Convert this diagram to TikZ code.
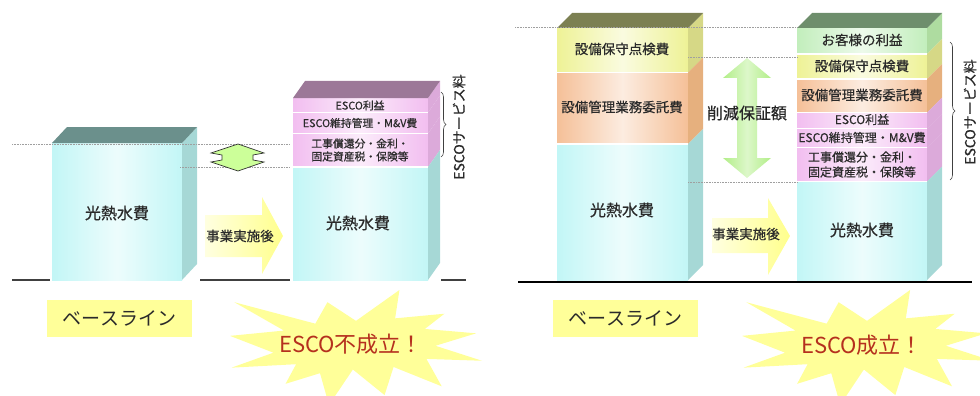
\documentclass[tikz,border=0pt]{standalone}
\usepackage{fontspec}
\setmainfont{Noto Sans CJK JP}
\newfontfamily\jpb{Noto Sans CJK JP}[FakeBold=0.5]
\usetikzlibrary{decorations.pathreplacing}
\definecolor{cyanF}{HTML}{C2F6F6}
\definecolor{cyanS}{HTML}{A6D8D6}
\definecolor{cyanT}{HTML}{6B908C}
\definecolor{pinkF}{HTML}{F2BEF0}
\definecolor{pinkS}{HTML}{DCAADA}
\definecolor{pinkT}{HTML}{9C7898}
\definecolor{yelF}{HTML}{EEF296}
\definecolor{yelS}{HTML}{D6D886}
\definecolor{oliveT}{HTML}{7C8052}
\definecolor{oraF}{HTML}{F5C098}
\definecolor{oraS}{HTML}{E6B07E}
\definecolor{grnF}{HTML}{C2EEBC}
\definecolor{grnS}{HTML}{AEDCA0}
\definecolor{grnT}{HTML}{6E8E6C}
\definecolor{hexG}{HTML}{CCFF99}
\definecolor{arrG}{HTML}{B2EE88}
\definecolor{starY}{HTML}{FFFF99}
\definecolor{boxY}{HTML}{FFFF99}
\definecolor{redT}{HTML}{B5301E}
\definecolor{txt}{HTML}{2A2A2A}
\newcommand{\esec}[6]{%
  \shade[left color=#5, right color=#5, middle color=#5!30!white] (#1,#3) rectangle (#2,#4);
  \fill[#6] (#2,#3) -- ({#2+\dX},{#3-\dY}) -- ({#2+\dX},{#4-\dY}) -- (#2,#4) -- cycle;}
\newcommand{\etop}[4]{%
  \fill[#4] (#1,#3) -- ({#1+\dX},{#3-\dY}) -- ({#2+\dX},{#3-\dY}) -- (#2,#3) -- cycle;}
\newcommand{\esep}[3]{\draw[white, line width=1.4pt] (#1,#3) -- (#2,#3);}
\newcommand{\starpath}{(108,58) -- (145.22,0) -- (141.55,53.25) -- (183.80,44.57) -- (167.02,73.15) -- (210.97,81.37) -- (176.07,104.75) -- (216,132.90) -- (168.37,129.42) -- (181.45,180.95) -- (140.20,144.57) -- (132.47,197.37) -- (105.32,149.35) -- (84.85,216) -- (77.15,156.27) -- (47.62,176.17) -- (56.67,139.37) -- (1.35,145.87) -- (37.22,117.75) -- (0,86.15) -- (46.27,76.17) -- (3.70,22.95) -- (73.12,63.20) -- (83.52,22.95) -- cycle}
\tikzset{
  dotl/.style={gray!75, dash pattern=on 0.8pt off 0.8pt, line width=0.6pt},
  lbl/.style={text=txt, inner sep=0pt, align=center},
  big/.style={lbl, font=\jpb\fontsize{16}{16}\selectfont},
  mid/.style={lbl, font=\jpb\fontsize{13.5}{14}\selectfont},
  smA/.style={lbl, font=\jpb\fontsize{10.8}{13}\selectfont},
  smB/.style={lbl, font=\jpb\fontsize{12}{15}\selectfont},
  vert/.style={lbl, rotate=90, font=\jpb\fontsize{14}{14}\selectfont},
  brc/.style={decorate, decoration={brace, amplitude=5pt}, black!75, line width=0.6pt},
  yarrow/.style={left color=yellow!12, right color=yellow!45},
  basebox/.style={fill=boxY, text=txt, minimum width=145pt, minimum height=37pt, inner sep=0pt, font=\fontsize{19}{19}\selectfont},
  startxt/.style={text=redT, inner sep=0pt, font=\fontsize{22}{22}\selectfont},
}
\begin{document}
\begin{tikzpicture}[x=1pt,y=-1pt]
\useasboundingbox (0,0) rectangle (980,396);
% ================= LEFT PANEL =================
\def\dX{15}\def\dY{16}
\esec{52}{182}{143}{280}{cyanF}{cyanS}
\etop{52}{182}{143}{cyanT}
\def\dX{12}\def\dY{17}
\esec{293}{428}{98}{112.5}{pinkF}{pinkS}
\esec{293}{428}{112.5}{133.5}{pinkF}{pinkS}
\esec{293}{428}{133.5}{167}{pinkF}{pinkS}
\esec{293}{428}{167}{280}{cyanF}{cyanS}
\etop{293}{428}{98}{pinkT}
\esep{293}{428}{112.5}\esep{293}{428}{133.5}\esep{293}{428}{167}
% baseline segments
\draw[black!75, line width=1.2pt] (12,280) -- (50,280);
\draw[black!75, line width=1.2pt] (200,280) -- (290,280);
\draw[black!75, line width=1.2pt] (441,280) -- (466,280);
% dotted
\draw[dotl] (12,144) -- (290,144);
\draw[dotl] (180,167) -- (290,167);
% hexagon double arrow
\filldraw[fill=hexG, draw=black!80, line width=0.7pt] (238,144) -- (264,153) -- (253,155) -- (253,160) -- (264,162) -- (238,171) -- (211,162) -- (222,160) -- (222,155) -- (211,153) -- cycle;
% yellow arrow
\shade[yarrow] (205,215) -- (262,215) -- (262,197) -- (283,236) -- (262,274) -- (262,257) -- (205,257) -- cycle;
\node[mid] (jL) at (240,236) {事業実施後};
% labels
\node[big] (kL1) at (117,213) {光熱水費};
\node[big] (kL2) at (358,223) {光熱水費};
\node[smA] (eL1) at (360,105.5) {ESCO利益};
\node[smA] (eL2) at (360,123) {ESCO維持管理・M\&V費};
\node[smA] (eL3) at (360,150) {工事償還分・金利・\\固定資産税・保険等};
\draw[brc] (441,92) -- (441,157);
\node[vert] (sL) at (459,127) {ESCOサービス料};
\node[basebox] (bL) at (119.5,318.5) {ベースライン};
\begin{scope}[shift={(230pt,-290pt)}, x=1.1667pt, y=-0.5324pt]
\fill[starY] \starpath;
\end{scope}
\node[startxt] (xL) at (351,344) {ESCO不成立！};
% ================= RIGHT PANEL =================
\def\dX{15}\def\dY{15}
\esec{557}{688}{28}{72.5}{yelF}{yelS}
\esec{557}{688}{72.5}{144}{oraF}{oraS}
\esec{557}{688}{144}{280}{cyanF}{cyanS}
\etop{557}{688}{28}{oliveT}
\esep{557}{688}{72.5}\esep{557}{688}{144}
\esec{797}{927}{28}{54}{grnF}{grnS}
\esec{797}{927}{54}{79}{yelF}{yelS}
\esec{797}{927}{79}{112.5}{oraF}{oraS}
\esec{797}{927}{112.5}{128.5}{pinkF}{pinkS}
\esec{797}{927}{128.5}{147.5}{pinkF}{pinkS}
\esec{797}{927}{147.5}{181.5}{pinkF}{pinkS}
\esec{797}{927}{181.5}{280}{cyanF}{cyanS}
\etop{797}{927}{28}{grnT}
\esep{797}{927}{54}\esep{797}{927}{79}\esep{797}{927}{112.5}\esep{797}{927}{128.5}\esep{797}{927}{147.5}\esep{797}{927}{181.5}
\draw[black, line width=1.2pt] (518,282) -- (972,282);
\draw[dotl] (515,27) -- (798,27);
\draw[dotl] (688,57) -- (798,57);
\draw[dotl] (688,182) -- (798,182);
% green double arrow
\shade[left color=arrG, right color=arrG, middle color=arrG!45!white] (747,58) -- (771,78) -- (757,78) -- (757,158) -- (771,158) -- (747,178) -- (723,158) -- (737,158) -- (737,78) -- (723,78) -- cycle;
\node[big, text=black!85] (gR) at (747,113) {削減保証額};
% yellow arrow
\shade[yarrow] (712,218) -- (768,218) -- (768,198) -- (790,236) -- (768,275) -- (768,253) -- (712,253) -- cycle;
\node[mid] (jR) at (746,234) {事業実施後};
% labels
\node[mid] (aR1) at (622,49) {設備保守点検費};
\node[mid] (aR2) at (622,107) {設備管理業務委託費};
\node[big] (aR3) at (622,210) {光熱水費};
\node[mid] (cR1) at (862,40) {お客様の利益};
\node[mid] (cR2) at (862,66) {設備保守点検費};
\node[mid] (cR3) at (862,95) {設備管理業務委託費};
\node[smB] (cR4) at (862,119.5) {ESCO利益};
\node[smB] (cR5) at (862,137.5) {ESCO維持管理・M\&V費};
\node[smB] (cR6) at (862,164.5) {工事償還分・金利・\\固定資産税・保険等};
\node[big] (cR7) at (862,230) {光熱水費};
\draw[brc] (950,42) -- (950,180);
\node[vert] (sR) at (970,112) {ESCOサービス料};
\node[basebox] (bR) at (625.5,318.5) {ベースライン};
\begin{scope}[shift={(742pt,-290pt)}, x=1.1574pt, y=-0.5324pt]
\fill[starY] \starpath;
\end{scope}
\node[startxt] (xR) at (862,345) {ESCO成立！};
\end{tikzpicture}
\end{document}
